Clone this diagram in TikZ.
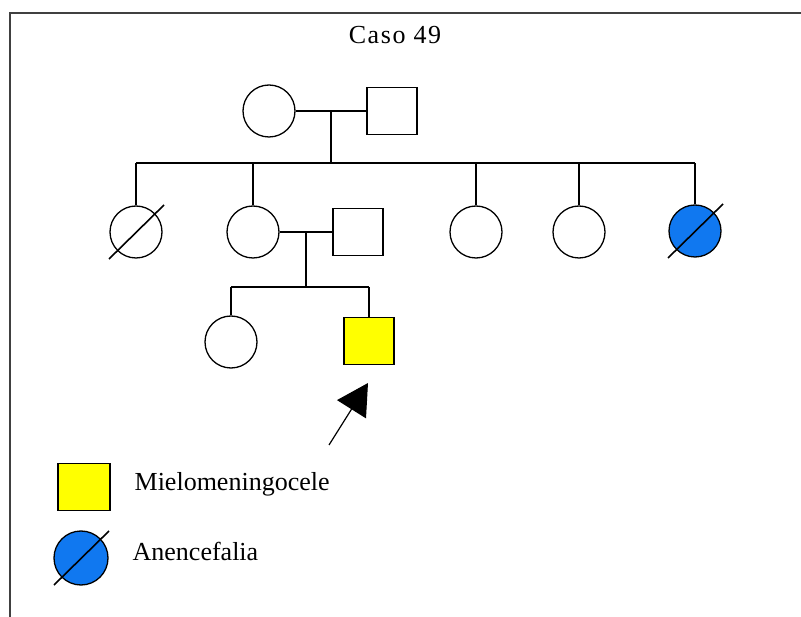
\documentclass[tikz,border=0pt]{standalone}
\usepackage{fontspec}
\setmainfont{Liberation Serif}
\usetikzlibrary{arrows.meta,calc}

\definecolor{mielo}{RGB}{255,255,0}
\definecolor{anence}{RGB}{16,120,240}

\tikzset{
  female/.style={circle, draw, minimum size=52pt, inner sep=0pt},
  male/.style={rectangle, draw, minimum width=50pt, minimum height=47pt, inner sep=0pt},
  label/.style={anchor=base west, inner sep=0pt},
}
% slash through a deceased individual
\newcommand{\deceased}[1]{\draw[line width=1.6pt] (#1.center) ++(-27,27) -- ++(55,-54);}

\begin{document}
\begin{tikzpicture}[x=1pt, y=-1pt, line width=1.3pt, font=\fontsize{26}{30}\selectfont]
\useasboundingbox (0,0) rectangle (801,617);
\draw[black!75, line width=2pt] (10,617) -- (10,13) -- (801,13);

\node[anchor=base, inner sep=0pt] (title) at (395,44) {\addfontfeature{LetterSpace=6}Caso 49};

% grandparents
\node[female] (gf) at (269,111) {};
\node[male] (gm) at (392,111) {};
\draw (gf) -- (gm);
\coordinate (sib1) at ($(gf.east)!0.5!(gm.west) + (0,52)$);
\draw ($(gf.east)!0.5!(gm.west)$) -- (sib1);

% siblings
\node[female] (s1) at (136,232) {};
\node[female] (s2) at (253,232) {};
\node[male] (sp) at (358,232) {};
\node[female] (s3) at (476,232) {};
\node[female] (s4) at (579,232) {};
\node[female, fill=anence] (s5) at (695,231) {};
\draw (s1.north |- sib1) -- (s5.north |- sib1);
\foreach \n in {s1,s2,s3,s4,s5}
  \draw (\n.north |- sib1) -- (\n.north);
\deceased{s1}
\deceased{s5}

% children
\draw (s2) -- (sp);
\coordinate (sib2) at ($(s2.east)!0.5!(sp.west) + (0,55)$);
\draw ($(s2.east)!0.5!(sp.west)$) -- (sib2);
\node[female] (k1) at (231,342) {};
\node[male, fill=mielo] (k2) at (369,341) {};
\draw (k1.north |- sib2) -- (k2.north |- sib2);
\foreach \n in {k1,k2}
  \draw (\n.north |- sib2) -- (\n.north);

% proband
\coordinate (tail) at (329,445);
\coordinate (tip) at (368,383);
\draw[-{Triangle[length=31pt,width=34pt]}, line width=1.2pt] (tail) -- (tip);

% legend
\node[male, minimum width=52pt, fill=mielo] (lm) at (84,487) {};
\node[label] (lmtext) at (134,490) {Mielomeningocele};
\node[female, minimum size=54pt, fill=anence] (la) at (81,558) {};
\deceased{la}
\node[label] (latext) at (132,560) {Anencefalia};
\end{tikzpicture}
\end{document}
